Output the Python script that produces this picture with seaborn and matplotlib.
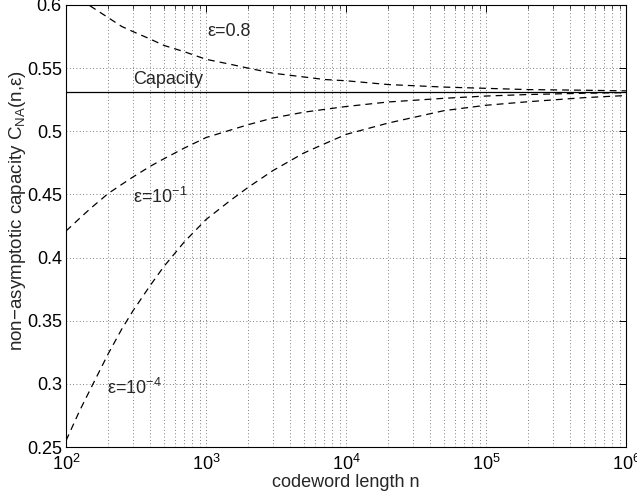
import numpy as np
import pandas as pd
import matplotlib
matplotlib.use("Agg")
import matplotlib.pyplot as plt
import matplotlib.ticker as mticker
import seaborn as sns

# ── DATA ──────────────────────────────────────────────────────────────────────
n_vals = [100, 125, 150, 200, 250, 300, 400, 500, 700, 1000, 1500, 2000, 3000,
          5000, 7000, 1e4, 2e4, 5e4, 1e5, 2e5, 5e5, 1e6]

c_eps_08 = [0.614, 0.605, 0.599, 0.590, 0.583, 0.579, 0.573, 0.568, 0.563, 0.557,
            0.553, 0.550, 0.546, 0.543, 0.541, 0.540, 0.537, 0.535, 0.534, 0.533,
            0.5325, 0.532]
c_eps_1e1 = [0.421, 0.431, 0.439, 0.4507, 0.4579, 0.4637, 0.4723, 0.4782, 0.4867,
             0.4950, 0.5010, 0.5052, 0.5105, 0.5151, 0.5173, 0.5196, 0.5232, 0.5261,
             0.5279, 0.5291, 0.5301, 0.5306]
c_eps_1e4 = [0.255, 0.2786, 0.2962, 0.3237, 0.3433, 0.3576, 0.378, 0.3929, 0.4124,
             0.4301, 0.4454, 0.4556, 0.4688, 0.4828, 0.4900, 0.4975, 0.5065, 0.5163,
             0.5206, 0.5234, 0.5266, 0.5283]
capacity = 0.5313

curves = {"0.8": c_eps_08, "1e-1": c_eps_1e1, "1e-4": c_eps_1e4}

# ── STYLE ─────────────────────────────────────────────────────────────────────
FS = 13
sns.set_theme(style="white")
plt.rcParams.update({
    "font.family": ["Liberation Sans", "DejaVu Sans"],
    "mathtext.default": "regular",
    "font.size": FS,
    "axes.edgecolor": "black",
    "axes.linewidth": 0.8,
    "xtick.direction": "in",
    "ytick.direction": "in",
    "xtick.top": True,
    "ytick.right": True,
    "xtick.minor.visible": True,
})

fig = plt.figure(figsize=(6.37, 4.98), dpi=100)
ax = fig.add_axes([0.1036, 0.1024, 0.8791, 0.8876])

for key, vals in curves.items():
    d = pd.DataFrame({"n": n_vals, "C": vals})
    sns.lineplot(data=d, x="n", y="C", ax=ax, color="black", linestyle="--",
                 linewidth=0.9, legend=False, sort=True)
for ln in ax.lines:
    ln.set_dashes([5.5, 4])

ax.axhline(capacity, color="black", linewidth=0.9)

ax.set_xscale("log")
ax.set_xlim(1e2, 1e6)
ax.set_ylim(0.25, 0.6)
ax.set_yticks(np.arange(0.25, 0.601, 0.05))
ax.yaxis.set_major_formatter(mticker.FuncFormatter(lambda v, p: f"{v:g}"))
ax.yaxis.set_minor_locator(mticker.NullLocator())
ax.xaxis.set_minor_locator(mticker.LogLocator(base=10, subs=np.arange(2, 10)))
ax.xaxis.set_minor_formatter(mticker.NullFormatter())
ax.tick_params(which="major", length=5, width=0.7, labelsize=FS, colors="black", pad=3)
ax.tick_params(axis="x", which="major", pad=5)
ax.tick_params(which="minor", length=3, width=0.6)

grid_kw = dict(color="#555555", linestyle=(0, (1, 3)), linewidth=0.6)
ax.grid(True, which="major", axis="both", **grid_kw)
ax.grid(True, which="minor", axis="x", **grid_kw)

ax.set_xlabel("codeword length n", fontsize=FS, labelpad=0)
ax.set_ylabel("non\u2212asymptotic capacity C$_{NA}$(n,\u03b5)", fontsize=13.5)
ax.yaxis.set_label_coords(-0.068, 0.536)

ax.text(1020, 0.579, "\u03b5=0.8", fontsize=FS, va="center", ha="left")
ax.text(300, 0.5345, "Capacity", fontsize=FS, va="bottom", ha="left")
ax.text(300, 0.448, "\u03b5=10$^{-1}$", fontsize=FS, va="center", ha="left")
ax.text(195, 0.297, "\u03b5=10$^{-4}$", fontsize=FS, va="center", ha="left")

for s in ax.spines.values():
    s.set_visible(True)
    s.set_color("black")

plt.savefig("out.png", dpi=100)
